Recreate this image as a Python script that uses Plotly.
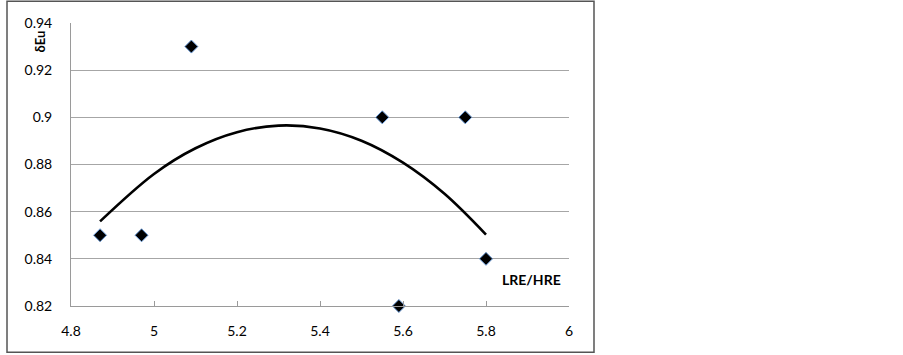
import plotly.graph_objects as go

# Data points (LRE/HRE vs δEu)
lre_hre = [4.87, 4.97, 5.09, 5.55, 5.59, 5.75, 5.80]
delta_eu = [0.85, 0.85, 0.93, 0.90, 0.82, 0.90, 0.84]

# Trend curve
trend_x = [4.87, 5.0, 5.1, 5.2, 5.3, 5.4, 5.5, 5.6, 5.7, 5.8]
trend_y = [0.8559, 0.8760, 0.8869, 0.8937, 0.8965, 0.8953, 0.8901, 0.8808, 0.8676, 0.8503]

x_ticks = [4.8, 5.0, 5.2, 5.4, 5.6, 5.8, 6.0]
x_tick_labels = ["4.8", "5", "5.2", "5.4", "5.6", "5.8", "6"]
y_ticks = [0.82, 0.84, 0.86, 0.88, 0.90, 0.92, 0.94]
y_tick_labels = ["0.82", "0.84", "0.86", "0.88", "0.9", "0.92", "0.94"]

FONT = "Lato, 'Noto Sans', sans-serif"

fig = go.Figure()
fig.add_trace(go.Scatter(
    x=trend_x, y=trend_y, mode="lines", line=dict(color="black", width=2.6, shape="spline"),
    showlegend=False, hoverinfo="skip"))
fig.add_trace(go.Scatter(
    x=lre_hre, y=delta_eu, mode="markers", cliponaxis=False,
    marker=dict(symbol="diamond", size=10, color="black", line=dict(color="#6a9bd8", width=1)),
    showlegend=False))

fig.update_layout(
    width=903, height=355,
    margin=dict(l=71, r=334, t=23, b=49),
    paper_bgcolor="white", plot_bgcolor="white",
    font=dict(family=FONT, size=14, color="black"),
    xaxis=dict(range=[4.8, 6.0], tickvals=x_ticks, ticktext=x_tick_labels,
               showgrid=False, zeroline=False, showline=True, linecolor="#9a9a9a", linewidth=1,
               ticks="inside", ticklen=5, tickcolor="#9a9a9a", ticklabelstandoff=12),
    yaxis=dict(range=[0.82, 0.94], tickvals=y_ticks, ticktext=y_tick_labels,
               showgrid=True, gridcolor="#a6a6a6", gridwidth=1, zeroline=False,
               showline=True, linecolor="#9a9a9a", linewidth=1, ticks="", ticklabelstandoff=15),
    shapes=[dict(type="rect", xref="paper", yref="paper",
                 x0=-0.1285, x1=1.0502, y0=-0.1636, y1=1.0767,
                 line=dict(color="#555555", width=1.5), fillcolor="rgba(0,0,0,0)", layer="below")],
    annotations=[
        dict(text="<b>δEu</b>", xref="paper", yref="paper", x=-0.062, y=0.935,
             xanchor="center", yanchor="middle",
             textangle=-90, showarrow=False, font=dict(size=13, family=FONT)),
        dict(text="<b>LRE/HRE</b>", xref="x", yref="paper", x=5.91, y=0.095,
             xanchor="center", yanchor="middle",
             showarrow=False, font=dict(size=14, family=FONT)),
    ],
)

fig.write_html("out.html", config={"displayModeBar": False},
               post_script="document.body.style.margin='0';document.body.style.padding='0';")
